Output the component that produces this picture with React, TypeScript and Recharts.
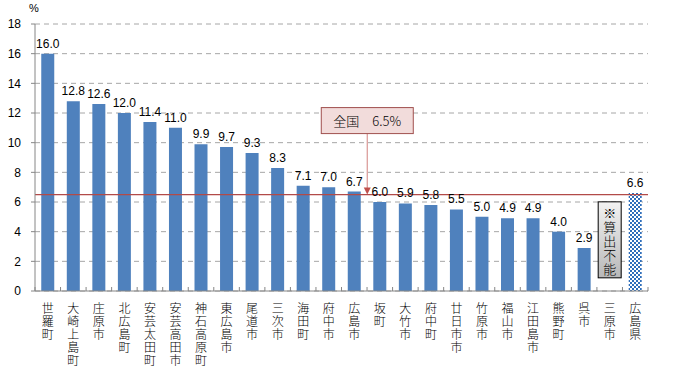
import React from "react";
import {
  BarChart,
  Bar,
  XAxis,
  YAxis,
  CartesianGrid,
  ReferenceLine,
  ReferenceDot,
  LabelList,
  Cell,
} from "recharts";

const CATEGORIES = [
  "世羅町", "大崎上島町", "庄原市", "北広島町", "安芸太田町", "安芸高田市",
  "神石高原町", "東広島市", "尾道市", "三次市", "海田町", "府中市",
  "広島市", "坂町", "大竹市", "府中町", "廿日市市", "竹原市",
  "福山市", "江田島市", "熊野町", "呉市", "三原市", "広島県",
];
const VALUES: (number | null)[] = [
  16.0, 12.8, 12.6, 12.0, 11.4, 11.0,
  9.9, 9.7, 9.3, 8.3, 7.1, 7.0,
  6.7, 6.0, 5.9, 5.8, 5.5, 5.0,
  4.9, 4.9, 4.0, 2.9, null, 6.6,
];
const Y_TICKS = [0, 2, 4, 6, 8, 10, 12, 14, 16, 18];
const NATIONAL = 6.5;
const NATIONAL_LABEL = "全国　6.5%";
const NA_CATEGORY = "三原市";
const NA_TEXT = "※算出不能";
const PREF_CATEGORY = "広島県";

const data = CATEGORIES.map((name, i) => ({ name, value: VALUES[i] }));

const JP_FONT = '"Noto Sans CJK JP", "Liberation Sans", sans-serif';
const NUM_FONT = '"Liberation Sans", Arial, sans-serif';
const AXIS_COLOR = "#868686";

const vertical: React.CSSProperties = {
  writingMode: "vertical-rl" as any,
  textOrientation: "upright" as any,
  letterSpacing: 1,
};

const VerticalTick = (props: any) => {
  const { x, y, payload, index } = props;
  const half = payload?.offset ?? 12.77;
  const axisY = y - 4;
  return (
    <g>
      <line x1={x - half} x2={x - half} y1={axisY - 4} y2={axisY} stroke={AXIS_COLOR} />
      {index === CATEGORIES.length - 1 && (
        <line x1={x + half} x2={x + half} y1={axisY - 4} y2={axisY} stroke={AXIS_COLOR} />
      )}
      <text x={x} y={axisY + 11} fontSize={12} fontWeight={300} fontFamily={JP_FONT} fill="#000" style={vertical}>
        {String(payload.value)}
      </text>
    </g>
  );
};

const NationalCallout = (props: any) => {
  const { cx, cy } = props;
  const ax = cx + 13;
  const boxW = 92;
  const boxTop = cy - 87;
  const boxBottom = cy - 61;
  return (
    <g>
      <line x1={ax} x2={ax} y1={boxBottom} y2={cy - 5} stroke="#d99694" strokeWidth={1.2} />
      <polygon points={`${ax - 3.5},${cy - 7} ${ax + 3.5},${cy - 7} ${ax},${cy}`} fill="#c0504d" />
      <rect x={ax - boxW / 2} y={boxTop} width={boxW} height={boxBottom - boxTop} fill="#f2dcdb" stroke="#a0504e" />
      <text x={ax} y={boxTop + 18} textAnchor="middle" fontSize={13} fontWeight={300} fontFamily={JP_FONT} fill="#000">
        {NATIONAL_LABEL}
      </text>
    </g>
  );
};

const NotAvailableBox = (props: any) => {
  const { cx, cy } = props;
  const w = 23;
  const h = 76;
  return (
    <g>
      <rect x={cx - w / 2} y={cy - h / 2} width={w} height={h} fill="url(#naGrad)" stroke="#000" />
      <text x={cx} y={cy - h / 2 + 5} fontSize={13} fontWeight={300} fontFamily={JP_FONT} fill="#000" style={vertical}>
        {NA_TEXT}
      </text>
    </g>
  );
};

export default function App() {
  return (
    <div style={{ position: "absolute", left: 0, top: 0, width: 681, height: 372, background: "#fff" }}>
      <svg width={0} height={0} style={{ position: "absolute" }}>
        <defs>
          <pattern id="checker" width={4} height={4} patternUnits="userSpaceOnUse">
            <rect width={4} height={4} fill="#ffffff" />
            <rect x={0} y={0} width={2} height={2} fill="#2f6eba" />
            <rect x={2} y={2} width={2} height={2} fill="#2f6eba" />
          </pattern>
          <linearGradient id="naGrad" x1="0" y1="0" x2="0" y2="1">
            <stop offset="0%" stopColor="#f2f2f2" />
            <stop offset="100%" stopColor="#b8b8b8" />
          </linearGradient>
        </defs>
      </svg>
      <div style={{ position: "absolute", left: 29, top: 2, fontSize: 11, fontFamily: NUM_FONT }}>%</div>
      <BarChart
        width={681}
        height={372}
        data={data}
        margin={{ top: 24, right: 33, bottom: 6, left: 0 }}
        barCategoryGap="24.5%"
      >
        <CartesianGrid vertical={false} stroke="#a6a6a6" strokeDasharray="5 4" />
        <XAxis
          dataKey="name"
          interval={0}
          height={75}
          tickLine={false}
          stroke={AXIS_COLOR}
          tick={<VerticalTick />}
          tickSize={0}
          tickMargin={4}
        />
        <YAxis
          width={35}
          domain={[0, 18]}
          ticks={Y_TICKS}
          stroke={AXIS_COLOR}
          tickSize={4}
          tickMargin={10}
          tick={{ fontSize: 12, fill: "#000", fontFamily: NUM_FONT }}
          interval={0}
        />
        <Bar dataKey="value" fill="#4f81bd" isAnimationActive={false}>
          {data.map((d) => (
            <Cell key={d.name} fill={d.name === PREF_CATEGORY ? "url(#checker)" : "#4f81bd"} />
          ))}
          <LabelList
            dataKey="value"
            position="top"
            offset={6}
            fontSize={12}
            fill="#000"
            fontFamily={NUM_FONT}
            formatter={(v: any) => (v == null ? "" : Number(v).toFixed(1))}
          />
        </Bar>
        <ReferenceLine y={NATIONAL} stroke="#b24a48" strokeWidth={1.2} />
        <ReferenceDot x="広島市" y={NATIONAL} shape={<NationalCallout />} />
        <ReferenceDot x={NA_CATEGORY} y={3.45} shape={<NotAvailableBox />} />
      </BarChart>
    </div>
  );
}
